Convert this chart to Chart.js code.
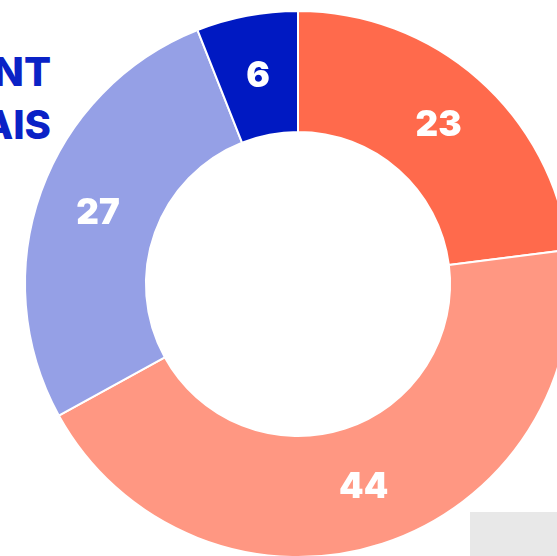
<!DOCTYPE html>
<html>
<head>
<meta charset="utf-8">
<script src="https://cdn.jsdelivr.net/npm/chart.js@4.4.0/dist/chart.umd.min.js"></script>
<style>
  html, body { margin: 0; padding: 0; width: 557px; height: 556px; overflow: hidden; background: #fff; }
  #wrap { position: absolute; left: 0; top: 0; width: 596px; height: 568px; }
  .title { position: absolute; right: calc(100% - 51px); font-family: Inter, "Noto Sans", sans-serif;
           font-weight: 800; font-size: 40px; color: #0A22C6; white-space: nowrap; line-height: 1; }
  #grey { position: absolute; left: 470px; top: 512px; width: 100px; height: 60px; background: #E8E8E8; }
</style>
</head>
<body>
<div class="title" style="top:52px">NT</div>
<div class="title" style="top:105px">AIS</div>
<div id="grey"></div>
<div id="wrap"><canvas id="donut"></canvas></div>
<script>
let labels = ["A", "B", "C", "D"];
let values = [23, 44, 27, 6];
let colors = ['#FF6A4C', '#FF9782', '#95A0E6', '#0019C2'];

// draw the numbers in the middle of each slice
let sliceLabels = {
    id: 'sliceLabels',
    afterDatasetsDraw(chart) {
        let ctx = chart.ctx;
        let meta = chart.getDatasetMeta(0);
        ctx.save();
        ctx.fillStyle = '#fff';
        ctx.font = '900 35px Inter, "Noto Sans", sans-serif';
        ctx.textAlign = 'center';
        ctx.textBaseline = 'middle';
        meta.data.forEach(function (arc, i) {
            let p = arc.tooltipPosition();
            ctx.fillText(String(values[i]), p.x, p.y + 1);
        });
        ctx.restore();
    }
};

let ctxDonut = document.getElementById('donut').getContext('2d');

var chartDonut = new Chart(ctxDonut, {
    type: 'doughnut',
    data: {
        labels: labels,
        datasets: [{
            data: values,
            backgroundColor: colors,
            borderColor: '#fff',
            borderWidth: 2
        }]
    },
    options: {
        responsive: true,
        maintainAspectRatio: false,
        animation: false,
        cutout: '55.7%',
        layout: { padding: 10 },
        plugins: {
            legend: { display: false },
            tooltip: { enabled: false }
        }
    },
    plugins: [sliceLabels]
});
</script>
</body>
</html>
